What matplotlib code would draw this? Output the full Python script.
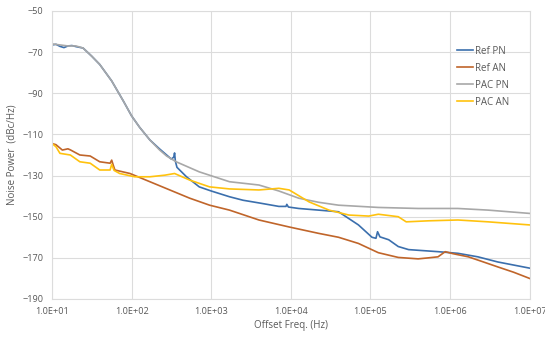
import matplotlib

matplotlib.use("Agg")

import matplotlib.pyplot as plt
import numpy as np

# log10 of offset frequency (Hz) and noise power (dBc/Hz)
ref_pn_logf = [1.0, 1.05, 1.1, 1.15, 1.2, 1.25, 1.3, 1.39, 1.5, 1.6, 1.75, 1.9, 2.0, 2.1, 2.23,
               2.35, 2.44, 2.5, 2.53, 2.54, 2.55, 2.57, 2.69, 2.85, 3.0, 3.23, 3.4, 3.6, 3.85,
               3.94, 3.95, 3.97, 4.1, 4.35, 4.6, 4.85, 5.02, 5.07, 5.09, 5.12, 5.23, 5.35, 5.48,
               5.85, 6.1, 6.35, 6.6, 6.8, 7.0]
ref_pn = [-66.5, -66.2, -67.2, -67.8, -67, -66.8, -67.3, -68, -72, -76, -84, -94, -101, -106.5,
          -112.7, -117, -120, -122, -121, -119, -123, -126, -130.6, -135.5, -137.5, -140.3, -142,
          -143.3, -145, -145, -144, -145.3, -146, -146.8, -147.6, -154, -160, -160.5, -157.3,
          -159.8, -161.2, -164.5, -166, -167, -167.8, -169.5, -172, -173.5, -175]

ref_an_logf = [1.0, 1.05, 1.13, 1.2, 1.23, 1.35, 1.48, 1.6, 1.73, 1.75, 1.77, 1.79, 1.98, 2.23,
               2.48, 2.73, 2.98, 3.23, 3.6, 3.98, 4.35, 4.6, 4.85, 5.1, 5.35, 5.6, 5.73, 5.85,
               5.94, 6.04, 6.23, 6.42, 6.6, 6.8, 7.0]
ref_an = [-114.4, -115, -117.6, -117, -117.5, -120, -120.5, -123.3, -124, -122.5, -125, -127.3,
          -129, -133, -137, -141, -144.4, -146.8, -151.6, -155, -158.1, -160, -163, -167.5,
          -169.8, -170.5, -170, -169.5, -167, -168, -169.5, -172, -174.4, -177, -180]

pac_pn_logf = [1.0, 1.1, 1.2, 1.3, 1.39, 1.5, 1.6, 1.75, 1.9, 2.0, 2.1, 2.23, 2.35, 2.44, 2.56,
               2.85, 3.23, 3.6, 3.85, 4.1, 4.35, 4.6, 5.1, 5.6, 6.1, 6.48, 7.0]
pac_pn = [-66, -66.5, -67, -67, -68, -72, -76, -84, -94, -101, -106.5, -112.7, -117.5, -120.5,
          -123.3, -128.2, -133, -134.6, -137.5, -141, -143, -144.4, -145.5, -146, -146, -146.8,
          -148.4]

pac_an_logf = [1.0, 1.05, 1.1, 1.23, 1.35, 1.48, 1.6, 1.73, 1.75, 1.78, 1.85, 2.04, 2.23, 2.42,
               2.54, 2.73, 2.98, 3.23, 3.6, 3.85, 3.98, 4.23, 4.48, 4.73, 4.98, 5.1, 5.35, 5.45,
               5.73, 6.1, 6.48, 7.0]
pac_an = [-114.4, -116, -119.2, -120, -123.3, -124, -127.3, -127.3, -124.5, -127.5, -129, -130.6,
          -130.6, -129.8, -129, -132.2, -135.5, -136.5, -137, -136.2, -137, -142.8, -146.8,
          -149.2, -149.7, -148.8, -150, -152.5, -152, -151.6, -152.5, -154]

x_ticks = [1e1, 1e2, 1e3, 1e4, 1e5, 1e6, 1e7]
x_labels = ["1.0E+01", "1.0E+02", "1.0E+03", "1.0E+04", "1.0E+05", "1.0E+06", "1.0E+07"]
y_ticks = [-50, -70, -90, -110, -130, -150, -170, -190]

series = [
    ("Ref PN", ref_pn_logf, ref_pn, "#3B6FAD"),
    ("Ref AN", ref_an_logf, ref_an, "#C0652A"),
    ("PAC PN", pac_pn_logf, pac_pn, "#A8A8A8"),
    ("PAC AN", pac_an_logf, pac_an, "#FFC20E"),
]

plt.rcParams["font.family"] = ["Open Sans", "DejaVu Sans"]

fig = plt.figure(figsize=(5.45, 3.37), dpi=100)
ax = fig.add_axes([0.0954, 0.1128, 0.8763, 0.8546])

for label, logf, vals, color in series:
    ax.plot(10 ** np.array(logf), vals, color=color, lw=1.2, label=label)

ax.set_xscale("log")
ax.set_xlim(1e1, 1e7)
ax.set_ylim(-190, -50)
ax.set_xticks(x_ticks)
ax.set_xticklabels(x_labels)
ax.minorticks_off()
ax.set_yticks(y_ticks)
ax.tick_params(length=0, labelsize=6.6, colors="#595959", pad=6)
ax.grid(color="#DCDCDC", lw=0.8)
for side in ax.spines.values():
    side.set_color("#DCDCDC")
    side.set_linewidth(0.8)

ax.set_xlabel("Offset Freq. (Hz)", fontsize=7, color="#595959", labelpad=3)
ax.set_ylabel("Noise Power  (dBc/Hz)", fontsize=7, color="#595959", labelpad=4)

leg = ax.legend(loc="upper left", bbox_to_anchor=(0.84, 0.893), frameon=False, fontsize=7,
                handlelength=1.6, handletextpad=0.2, labelspacing=0.62, borderaxespad=0)
for txt in leg.get_texts():
    txt.set_color("#595959")

fig.savefig("out.png", dpi=100)
